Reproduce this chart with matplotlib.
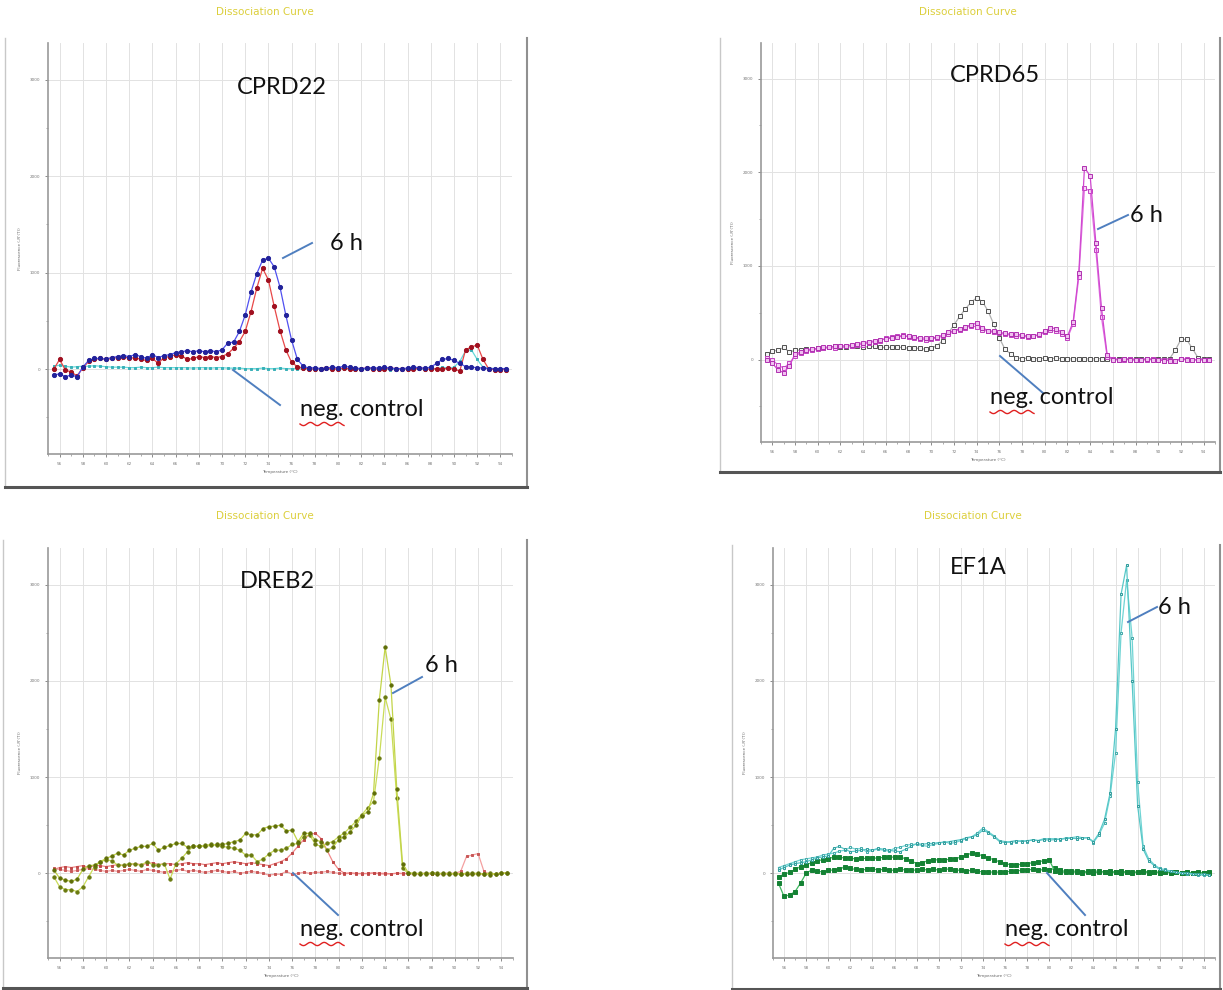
#!/usr/bin/env python3
"""
Four qPCR dissociation (melt) curves: CPRD22, CPRD65, DREB2, EF1A.
"""

import matplotlib.pyplot as plt
import numpy as np
from matplotlib.lines import Line2D

W, H = 1223, 990

# melt steps, 0.5 degC apart
temps = np.arange(55.5, 94.6, 0.5)

# ---- CPRD22 ----
cprd22_6h_a = [-60, -50, -80, -60, -80, 20, 90, 110, 110, 105,
               120, 130, 140, 130, 150, 130, 110, 150, 120, 140,
               150, 170, 180, 190, 180, 190, 180, 190, 180, 200,
               270, 280, 390, 560, 800, 990, 1130, 1150, 1060, 850,
               560, 300, 100, 30, 10, 15, 5, 10, 20, 15,
               30, 20, 10, 5, 10, 15, 10, 20, 10, 5,
               5, 10, 20, 15, 10, 20, 60, 100, 110, 90,
               60, 25, 20, 15, 10, 5, 5, 5, 5]
cprd22_6h_b = [0, 100, -10, -30, -70, 10, 80, 100, 110, 100,
               110, 120, 130, 110, 120, 100, 90, 110, 60, 120,
               130, 150, 140, 100, 110, 130, 120, 130, 120, 130,
               160, 215, 285, 390, 595, 840, 1045, 925, 650, 400,
               200, 70, 25, 10, 5, 0, 5, 10, 0, 5,
               10, 5, 0, 5, 10, 5, 0, 5, 10, 5,
               0, 5, 0, 10, 5, 0, 5, 0, 10, 0,
               -20, 200, 230, 250, 100, 0, -5, -5, -5]
cprd22_neg = [30, 40, 30, 20, 25, 30, 30, 35, 30, 25,
              20, 20, 20, 15, 15, 20, 15, 15, 20, 15,
              15, 15, 15, 15, 10, 15, 15, 10, 15, 15,
              10, 10, 10, 5, 5, 5, 10, 5, 5, 10,
              5, 5, 5, 0, 0, -5, 0, 0, -5, 0,
              0, 0, -5, 0, 0, 0, -5, 0, -5, 0,
              0, -5, 0, 0, -5, 0, 0, 20, 10, 20,
              80, 190, 200, 100, 20, 10, 5, 5, 5]

# ---- CPRD65 ----
cprd65_6h_a = [0, -40, -110, -140, -70, 60, 80, 100, 110, 120,
               130, 135, 140, 150, 140, 160, 170, 180, 190, 200,
               210, 220, 230, 240, 250, 250, 240, 230, 230, 230,
               240, 260, 290, 310, 330, 350, 370, 390, 340, 310,
               300, 290, 280, 270, 270, 260, 250, 250, 270, 300,
               340, 330, 290, 250, 400, 925, 2050, 1960, 1250, 550,
               50, 0, 0, 5, 0, -5, 0, 5, 0, -5,
               -10, -10, -15, 10, 0, -5, 0, 0, 0]
cprd65_6h_b = [20, 0, -60, -90, -40, 40, 70, 90, 100, 110,
               120, 130, 120, 140, 150, 150, 160, 160, 180, 190,
               200, 230, 240, 250, 260, 240, 230, 220, 210, 220,
               230, 250, 270, 300, 320, 340, 360, 350, 320, 300,
               290, 280, 270, 260, 250, 250, 240, 250, 260, 290,
               320, 300, 270, 230, 380, 880, 1830, 1800, 1170, 450,
               30, 5, 0, 0, 5, 0, -5, 0, 5, 0,
               0, -5, -10, 5, 5, 0, -5, 0, 0]
cprd65_neg = [60, 90, 100, 130, 80, 100, 100, 110, 110, 120,
              120, 130, 140, 130, 130, 140, 140, 130, 140, 140,
              130, 130, 130, 130, 130, 120, 120, 120, 110, 120,
              150, 200, 280, 370, 460, 540, 610, 660, 620, 520,
              380, 230, 110, 60, 20, 10, 15, 10, 10, 15,
              10, 15, 10, 10, 5, 10, 10, 5, 10, 10,
              5, 10, 5, 10, 10, 5, 10, 5, 10, 5,
              10, 10, 100, 215, 215, 120, 20, 5, 5]

# ---- DREB2 ----
dreb2_6h_a = [35, -50, -70, -85, -60, 40, 80, 85, 120, 155,
              180, 210, 190, 240, 260, 280, 280, 310, 240, 270,
              290, 310, 310, 270, 280, 280, 280, 290, 300, 300,
              310, 330, 345, 415, 400, 400, 465, 485, 490, 500,
              440, 450, 330, 415, 415, 345, 330, 240, 270, 350,
              380, 430, 500, 600, 640, 830, 1800, 2350, 1960, 880,
              100, 5, 0, -5, 0, 0, -5, 0, -10, 0,
              -10, -5, 0, 0, -10, -15, -5, 0, 5]
dreb2_6h_b = [-35, -140, -170, -170, -190, -140, -35, 70, 120, 140,
              130, 85, 85, 100, 95, 85, 120, 90, 85, 100,
              -60, 100, 155, 225, 280, 280, 290, 300, 290, 280,
              270, 260, 240, 190, 190, 120, 150, 200, 240, 240,
              260, 300, 310, 380, 400, 300, 280, 310, 330, 380,
              420, 480, 540, 610, 680, 745, 1200, 1830, 1600, 780,
              50, 0, -5, 0, -5, 0, 0, -5, 0, -10,
              -5, 0, -5, -10, -5, 0, -10, 0, 0]
dreb2_neg_a = [40, 60, 70, 60, 70, 80, 60, 80, 80, 70,
               80, 90, 80, 90, 100, 90, 100, 110, 90, 100,
               100, 90, 100, 110, 100, 100, 90, 100, 110, 100,
               110, 120, 110, 100, 110, 100, 90, 80, 100, 120,
               150, 210, 280, 350, 405, 415, 360, 240, 120, 40,
               0, 5, 0, -5, 0, 5, 0, 0, -5, 0,
               0, -5, 0, -5, 0, -5, 0, -10, -5, -5,
               0, -5, -10, 0, -5, -10, -5, 0, 0]
dreb2_neg_b = [50, 40, 30, 20, 30, 40, 50, 40, 30, 20,
               30, 20, 30, 40, 30, 20, 40, 30, 20, 10,
               20, 30, 40, 20, 30, 20, 10, 20, 30, 20,
               10, 20, 0, 10, 20, 10, 0, -20, -10, -10,
               20, -10, 0, 10, 0, 10, 10, 20, 10, 0,
               -5, 0, -5, 0, -5, 0, -5, -10, -5, 0,
               -5, 0, -10, -5, 0, -5, -5, 0, 0, 0,
               20, 175, 190, 205, 20, -10, -5, 0, 5]

# ---- EF1A ----
ef1a_6h_a = [35, 60, 85, 100, 110, 120, 140, 160, 170, 180,
             260, 280, 250, 225, 230, 240, 250, 240, 260, 250,
             240, 230, 225, 250, 280, 310, 300, 310, 310, 320,
             320, 330, 340, 350, 370, 380, 400, 450, 420, 380,
             330, 320, 330, 340, 330, 340, 345, 340, 350, 345,
             350, 355, 360, 365, 360, 365, 370, 330, 415, 560,
             830, 1500, 2900, 3200, 2000, 700, 250, 130, 80, 40,
             30, 20, 10, 5, 0, -5, -10, -10, -15]
ef1a_6h_b = [60, 80, 100, 120, 140, 150, 160, 170, 190, 200,
             210, 230, 240, 270, 250, 260, 220, 240, 250, 240,
             230, 260, 270, 290, 300, 300, 290, 280, 300, 310,
             330, 310, 320, 340, 360, 380, 420, 470, 430, 390,
             340, 330, 320, 330, 340, 330, 350, 340, 360, 360,
             360, 350, 370, 370, 380, 370, 370, 320, 400, 520,
             800, 1250, 2500, 3050, 2450, 950, 280, 150, 90, 50,
             40, 20, 10, 0, -5, -10, -15, -20, -15]
ef1a_neg_a = [-35, -10, 10, 40, 70, 90, 110, 130, 140, 150,
              170, 165, 160, 155, 150, 155, 155, 155, 160, 165,
              165, 170, 170, 150, 130, 100, 110, 130, 140, 140,
              140, 145, 150, 170, 190, 210, 200, 180, 160, 140,
              120, 100, 90, 85, 95, 100, 110, 120, 130, 140,
              20, 15, 10, 15, 10, 5, 10, 5, 10, 15,
              5, 10, 5, 10, 5, 10, 10, 5, 10, 5,
              10, 5, 10, 5, 0, 5, 0, 5, 10]
ef1a_neg_b = [-105, -240, -225, -190, -100, 0, 35, 20, 15, 30,
              35, 40, 70, 50, 40, 35, 40, 45, 35, 40,
              35, 30, 40, 35, 30, 35, 40, 35, 40, 35,
              40, 45, 35, 30, 25, 30, 20, 15, 10, 15,
              10, 15, 20, 25, 30, 35, 40, 30, 40, 35,
              50, 30, 20, 25, 20, 15, 20, 25, 20, 15,
              20, 15, 20, 15, 10, 15, 20, 15, 10, 15,
              10, 15, 10, 5, 10, 5, 10, 5, 0]

x_ticks = list(range(56, 95, 2))
y_ticks = [0, 1000, 2000, 3000]

LABEL_FONT = ['Lato', 'DejaVu Sans']
ANNOT = '#4f7fbf'


def px(x, y):
    return x / W, 1 - y / H


def rect(l, t, r, b):
    return [l / W, 1 - b / H, (r - l) / W, (b - t) / H]


# series: values, line colour, marker face, marker edge, marker, size
panels = [
    dict(name='CPRD22', ax=(48, 43, 512, 454), frame=(5, 38, 527, 487),
         title=(265, 12), name_xy=(282, 88),
         series=[(cprd22_neg, '#66dada', '#38b0b8', '#38b0b8', 's', 1.8),
                 (cprd22_6h_b, '#e84848', '#a01020', '#a01020', 'o', 3.0),
                 (cprd22_6h_a, '#5050f0', '#22229a', '#22229a', 'o', 3.0)],
         six_h=((283, 258), (312, 243), (330, 243)),
         neg=((233, 370), (280, 405), (300, 410))),
    dict(name='CPRD65', ax=(761, 43, 1215, 442), frame=(720, 38, 1220, 472),
         title=(968, 12), name_xy=(995, 76),
         series=[(cprd65_neg, '#b0b0b0', '#f4f4f4', '#505050', 's', 2.3),
                 (cprd65_6h_b, '#e070e0', '#f6d0f6', '#c040c0', 's', 2.4),
                 (cprd65_6h_a, '#d048d0', '#f0c0f0', '#b030b0', 's', 2.4)],
         six_h=((1098, 229), (1128, 215), (1130, 215)),
         neg=((1000, 356), (1043, 393), (990, 398))),
    dict(name='DREB2', ax=(48, 548, 513, 958), frame=(3, 540, 527, 988),
         title=(265, 516), name_xy=(277, 581),
         series=[(dreb2_neg_b, '#f4a0a0', '#c85858', '#c85858', 's', 2.0),
                 (dreb2_neg_a, '#f08888', '#c04848', '#c04848', 's', 2.0),
                 (dreb2_6h_b, '#cadc58', '#6a7a10', '#6a7a10', 'o', 2.4),
                 (dreb2_6h_a, '#c2d448', '#5f6e08', '#5f6e08', 'o', 2.4)],
         six_h=((393, 693), (422, 677), (425, 665)),
         neg=((293, 873), (338, 915), (300, 930))),
    dict(name='EF1A', ax=(773, 548, 1215, 958), frame=(732, 545, 1220, 989),
         title=(973, 516), name_xy=(978, 568),
         series=[(ef1a_neg_b, '#40b860', '#148234', '#148234', 's', 2.2),
                 (ef1a_neg_a, '#40b860', '#148234', '#148234', 's', 2.2),
                 (ef1a_6h_b, '#70d4d4', '#d8f4f4', '#40a8a8', 's', 2.0),
                 (ef1a_6h_a, '#58c8c8', '#c8eeee', '#309c9c', 's', 2.0)],
         six_h=((1128, 622), (1157, 607), (1158, 608)),
         neg=((1047, 873), (1085, 915), (1005, 930))),
]


def fig_line(fig, xs, ys, **kw):
    fig.add_artist(Line2D(np.asarray(xs) / W, 1 - np.asarray(ys) / H,
                          transform=fig.transFigure, **kw))


def draw_panel(fig, p):
    # screenshot frame
    l, t, r, b = p['frame']
    fig_line(fig, [l, l], [t, b], color='#c8c8c8', lw=1)
    fig_line(fig, [r, r], [t, b], color='#909090', lw=1.5)
    fig_line(fig, [l, r], [b, b], color='#555555', lw=2.2)

    ax = fig.add_axes(rect(*p['ax']))
    for vals, lc, mfc, mec, mk, ms in p['series']:
        ax.plot(temps, vals, '-', color=lc, lw=0.9, marker=mk, ms=ms,
                mfc=mfc, mec=mec, mew=0.7, zorder=3)
    ax.set_xlim(55, 95)
    ax.set_ylim(-880, 3380)
    ax.set_xticks(x_ticks)
    ax.set_xticks(np.arange(55, 96, 1), minor=True)
    ax.set_yticks(y_ticks)
    ax.set_yticks([-500, 500, 1500, 2500], minor=True)
    ax.tick_params(labelsize=3, colors='#777777', length=2, width=0.6)
    ax.tick_params(which='minor', length=1.5, width=0.5, colors='#888888')
    ax.grid(True, which='major', color='#e2e2e2', lw=0.7)
    for s in ['top', 'right']:
        ax.spines[s].set_visible(False)
    for s in ['left', 'bottom']:
        ax.spines[s].set_color('#999999')
        ax.spines[s].set_linewidth(1.2)
    ax.set_xlabel('Temperature (°C)', fontsize=3, color='#666666', labelpad=3)
    ax.set_ylabel("Fluorescence (-R'(T))", fontsize=3, color='#666666', labelpad=6)

    fig.text(*px(*p['title']), 'Dissociation Curve', fontsize=7.5, color='#dccf3c',
             ha='center', va='center')
    fig.text(*px(*p['name_xy']), p['name'], fontsize=17, family=LABEL_FONT,
             ha='center', va='center', color='#111111')

    # "6 h" label with pointer
    (x0, y0), (x1, y1), (tx, ty) = p['six_h']
    fig_line(fig, [x0, x1], [y0, y1], color=ANNOT, lw=1.4)
    fig.text(*px(tx, ty), '6 h', fontsize=17, family=LABEL_FONT, ha='left', va='center',
             color='#111111')

    # "neg. control" label with pointer and spell-check squiggle
    (x0, y0), (x1, y1), (tx, ty) = p['neg']
    fig_line(fig, [x0, x1], [y0, y1], color=ANNOT, lw=1.4)
    fig.text(*px(tx, ty), 'neg. control', fontsize=17, family=LABEL_FONT, ha='left',
             va='center', color='#111111')
    sx = np.linspace(tx, tx + 44, 60)
    sy = ty + 14 + 1.6 * np.sin((sx - tx) / 2.2)
    fig_line(fig, sx, sy, color='#e02020', lw=1.0)


def main():
    fig = plt.figure(figsize=(W / 100, H / 100), dpi=100)
    for p in panels:
        draw_panel(fig, p)
    fig.savefig('out.png', dpi=100)
    plt.close(fig)


if __name__ == '__main__':
    main()
